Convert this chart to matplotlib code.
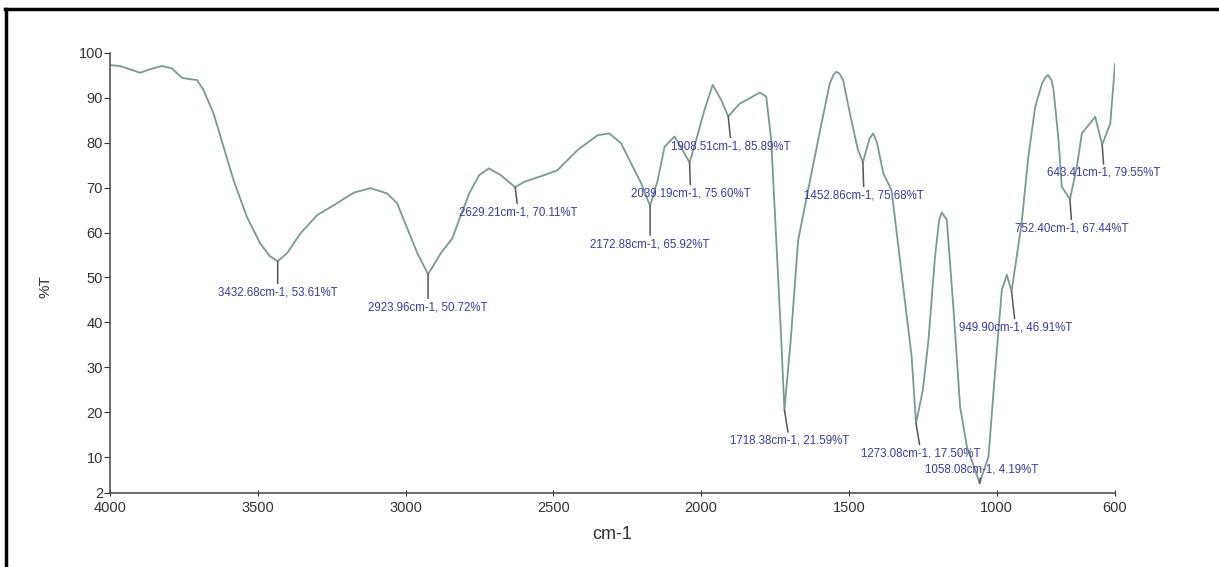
import matplotlib
matplotlib.use('Agg')
import matplotlib.pyplot as plt
from matplotlib.lines import Line2D

# Spectrum (wavenumber in cm-1, transmittance in %T)
wavenumber = [4000, 3966, 3898, 3864, 3825, 3791, 3757, 3735, 3706, 3684,
              3650, 3616, 3582, 3537, 3492, 3460, 3432.68, 3401, 3356, 3299,
              3243, 3175, 3119, 3062, 3028, 3006, 2960, 2923.96, 2881, 2842,
              2819, 2785, 2751, 2718, 2678, 2629.21, 2599, 2531, 2486, 2418,
              2350, 2311, 2271, 2237, 2203, 2172.88, 2147, 2124, 2090, 2057,
              2039.19, 2017, 1989, 1961, 1932, 1908.51, 1870, 1836, 1802, 1780,
              1763, 1746, 1729, 1718.38, 1697, 1672, 1627, 1593, 1565, 1552,
              1543, 1532, 1520, 1497, 1470, 1452.86, 1430, 1418, 1405, 1384,
              1356, 1322, 1288, 1273.08, 1250, 1231, 1209, 1195, 1186, 1169,
              1147, 1124, 1101, 1073, 1058.08, 1028, 1006, 983, 966, 949.90,
              916, 893, 870, 847, 835, 827, 815, 808, 791, 780,
              752.40, 729, 712, 667, 643.41, 616, 600]
transmittance = [97.3, 97.1, 95.6, 96.4, 97.1, 96.6, 94.5, 94.2, 94.0, 91.8,
                 86.6, 79.1, 71.7, 63.5, 57.6, 54.8, 53.61, 55.4, 59.8, 63.9,
                 66.1, 68.9, 69.9, 68.7, 66.5, 62.8, 55.4, 50.72, 55.4, 58.7,
                 62.8, 68.7, 72.8, 74.3, 72.8, 70.11, 71.3, 72.8, 73.9, 78.4,
                 81.7, 82.1, 79.9, 75.4, 71.0, 65.92, 71.7, 79.1, 81.4, 77.7,
                 75.60, 80.6, 87.3, 92.9, 89.5, 85.89, 88.7, 89.9, 91.2, 90.3,
                 80.6, 58.3, 36.1, 20.5, 36.1, 58.3, 73.2, 84.3, 93.2, 95.2,
                 95.8, 95.4, 94.0, 86.6, 78.5, 75.68, 81.0, 82.1, 80.0, 73.2,
                 69.5, 50.9, 32.4, 17.50, 25.0, 36.1, 54.6, 62.8, 64.5, 62.8,
                 43.5, 21.2, 12.3, 7.1, 4.19, 10.1, 28.7, 47.2, 50.6, 46.91,
                 62.1, 76.9, 88.0, 93.2, 94.6, 95.1, 94.0, 91.8, 80.6, 70.2,
                 67.44, 74.7, 82.1, 85.8, 79.55, 84.3, 97.5]

# Peak picks shown on the chart
peak_wn = [3432.68, 2923.96, 2629.21, 2172.88, 2039.19, 1908.51, 1718.38,
           1452.86, 1273.08, 1058.08, 949.90, 752.40, 643.41]
peak_T = [53.61, 50.72, 70.11, 65.92, 75.60, 85.89, 20.5,
          75.68, 17.50, 4.19, 46.91, 67.44, 79.55]
peak_labels = ['3432.68cm-1, 53.61%T', '2923.96cm-1, 50.72%T',
               '2629.21cm-1, 70.11%T', '2172.88cm-1, 65.92%T',
               '2039.19cm-1, 75.60%T', '1908.51cm-1, 85.89%T',
               '1718.38cm-1, 21.59%T', '1452.86cm-1, 75.68%T',
               '1273.08cm-1, 17.50%T', '1058.08cm-1, 4.19%T',
               '949.90cm-1, 46.91%T', '752.40cm-1, 67.44%T',
               '643.41cm-1, 79.55%T']

x_ticks = [4000, 3500, 3000, 2500, 2000, 1500, 1000, 600]
y_ticks = [2, 10, 20, 30, 40, 50, 60, 70, 80, 90, 100]

# label placement relative to the peak, in pixels (dx, dy)
label_offsets = [(0, -31), (0, -33), (3, -25), (0, -38), (1, -31), (3, -30),
                 (5, -31), (1, -33), (5, -30), (2, 14), (4, -36), (2, -29),
                 (2, -28)]

plt.rcParams['font.family'] = ['Liberation Sans', 'DejaVu Sans']

fig = plt.figure(figsize=(12.19, 5.67), dpi=100)
ax = fig.add_axes([110 / 1219, 74 / 567, 1005 / 1219, 440 / 567])

ax.plot(wavenumber, transmittance, color='#7d9893', linewidth=1.3)

for wn, t, lab, (dx, dy) in zip(peak_wn, peak_T, peak_labels, label_offsets):
    ax.annotate(lab, xy=(wn, t), xytext=(dx, dy), textcoords='offset pixels',
                ha='center', va='center', fontsize=8.3, color='#3b3b9c',
                arrowprops=dict(arrowstyle='-', color='#555555', lw=1.1,
                                shrinkA=0, shrinkB=0))

ax.set_xlim(4000, 600)
ax.set_ylim(2, 100)
ax.set_xticks(x_ticks)
ax.set_yticks(y_ticks)
ax.tick_params(axis='y', direction='out', length=4, pad=1, labelsize=10.5,
               colors='#333333')
ax.tick_params(axis='x', direction='inout', length=5, pad=3, labelsize=10.5,
               colors='#333333')

for side in ['top', 'right']:
    ax.spines[side].set_visible(False)
for side in ['left', 'bottom']:
    ax.spines[side].set_color('#444444')
    ax.spines[side].set_linewidth(1.1)

ax.set_xlabel('cm-1', fontsize=13, color='#333333', labelpad=8)
ax.set_ylabel('%T', fontsize=11, color='#333333')
ax.yaxis.set_label_coords(-0.057, 0.47)

# black frame around the picture (only top and left are visible)
fig.add_artist(Line2D([5 / 1219, 1], [1 - 9 / 567, 1 - 9 / 567],
                      transform=fig.transFigure, color='black', lw=2.5))
fig.add_artist(Line2D([6 / 1219, 6 / 1219], [0, 1 - 9 / 567],
                      transform=fig.transFigure, color='black', lw=2.5))

fig.savefig('out.png', dpi=100)
